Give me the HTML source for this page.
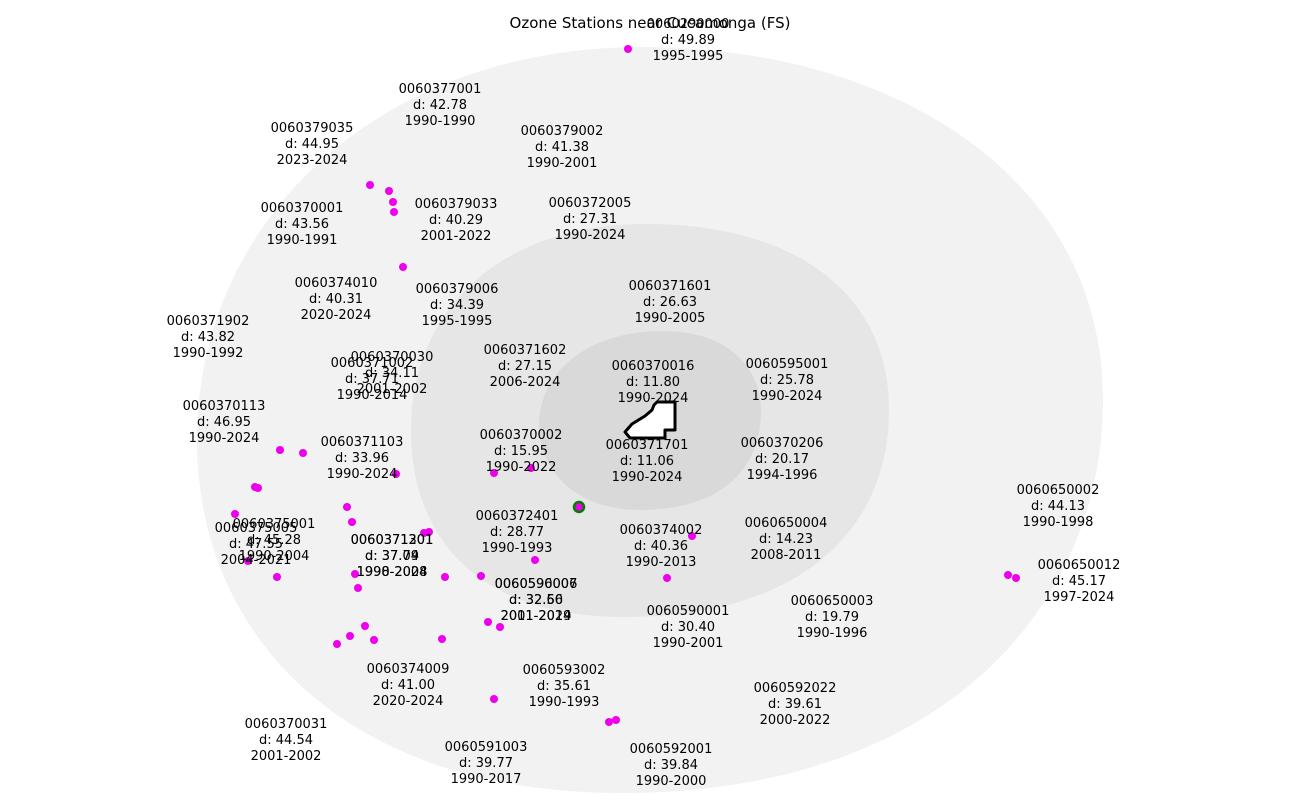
<!DOCTYPE html>
<html><head><style>body{margin:0;background:#fff}svg{display:block}text{font-family:"DejaVu Sans","Liberation Sans",sans-serif;font-size:13px;fill:#000}</style></head>
<body>
<svg width="1300" height="802" viewBox="0 0 1300 802" xmlns="http://www.w3.org/2000/svg">
<path d="M650,47 C900,50 1103,180 1103,400 C1103,600 950,793 620,793 C350,793 197,640 197,440 C197,220 380,44 650,47Z" fill="#f2f2f2"/>
<path d="M640,224 C790,222 889,290 889,410 C889,530 800,617 625,617 C480,617 411,540 411,430 C411,310 500,226 640,224Z" fill="#e6e6e6"/>
<path d="M660,331 C730,330 761,370 761,410 C761,470 720,510 640,510 C575,510 539,470 539,425 C539,370 590,332 660,331Z" fill="#d9d9d9"/>
<path d="M657,402 L675,402 L675,430 L665,430 L665,438 L630,438 L625,432 L632,424 L645,416 L652,410 L654,405Z" fill="#fff" stroke="#000" stroke-width="3" stroke-linejoin="round"/>
<g fill="#ee00ee">
<circle cx="628" cy="49" r="4"/><circle cx="370" cy="185" r="4"/><circle cx="389" cy="191" r="4"/><circle cx="393" cy="202" r="4"/><circle cx="394" cy="212" r="4"/><circle cx="403" cy="267" r="4"/><circle cx="280" cy="450" r="4"/><circle cx="303" cy="453" r="4"/><circle cx="255" cy="487" r="4"/><circle cx="258" cy="488" r="4"/><circle cx="235" cy="514" r="4"/><circle cx="248" cy="561" r="4"/><circle cx="277" cy="577" r="4"/><circle cx="347" cy="507" r="4"/><circle cx="352" cy="522" r="4"/><circle cx="355" cy="574" r="4"/><circle cx="358" cy="588" r="4"/><circle cx="365" cy="626" r="4"/><circle cx="350" cy="636" r="4"/><circle cx="337" cy="644" r="4"/><circle cx="374" cy="640" r="4"/><circle cx="442" cy="639" r="4"/><circle cx="445" cy="577" r="4"/><circle cx="481" cy="576" r="4"/><circle cx="488" cy="622" r="4"/><circle cx="500" cy="627" r="4"/><circle cx="494" cy="699" r="4"/><circle cx="609" cy="722" r="4"/><circle cx="616" cy="720" r="4"/><circle cx="494" cy="473" r="4"/><circle cx="531" cy="468" r="4"/><circle cx="396" cy="474" r="4"/><circle cx="424" cy="533" r="4"/><circle cx="429" cy="532" r="4"/><circle cx="535" cy="560" r="4"/><circle cx="667" cy="578" r="4"/><circle cx="692" cy="536" r="4"/><circle cx="1008" cy="575" r="4"/><circle cx="1016" cy="578" r="4"/>
</g>
<circle cx="579" cy="507" r="5" fill="#ee00ee" stroke="#008000" stroke-width="2.5"/>
<g text-anchor="middle">
<text x="650" y="28" style="font-size:15px">Ozone Stations near Cucamonga (FS)</text>
<g transform="translate(-2,-1)">
<text x="690" y="29">0060290000<tspan x="690" dy="16">d: 49.89</tspan><tspan x="690" dy="16">1995-1995</tspan></text>
<text x="442" y="94">0060377001<tspan x="442" dy="16">d: 42.78</tspan><tspan x="442" dy="16">1990-1990</tspan></text>
<text x="314" y="133">0060379035<tspan x="314" dy="16">d: 44.95</tspan><tspan x="314" dy="16">2023-2024</tspan></text>
<text x="564" y="136">0060379002<tspan x="564" dy="16">d: 41.38</tspan><tspan x="564" dy="16">1990-2001</tspan></text>
<text x="304" y="213">0060370001<tspan x="304" dy="16">d: 43.56</tspan><tspan x="304" dy="16">1990-1991</tspan></text>
<text x="458" y="209">0060379033<tspan x="458" dy="16">d: 40.29</tspan><tspan x="458" dy="16">2001-2022</tspan></text>
<text x="592" y="208">0060372005<tspan x="592" dy="16">d: 27.31</tspan><tspan x="592" dy="16">1990-2024</tspan></text>
<text x="338" y="288">0060374010<tspan x="338" dy="16">d: 40.31</tspan><tspan x="338" dy="16">2020-2024</tspan></text>
<text x="459" y="294">0060379006<tspan x="459" dy="16">d: 34.39</tspan><tspan x="459" dy="16">1995-1995</tspan></text>
<text x="672" y="291">0060371601<tspan x="672" dy="16">d: 26.63</tspan><tspan x="672" dy="16">1990-2005</tspan></text>
<text x="210" y="326">0060371902<tspan x="210" dy="16">d: 43.82</tspan><tspan x="210" dy="16">1990-1992</tspan></text>
<text x="394" y="362">0060370030<tspan x="394" dy="16">d: 34.11</tspan><tspan x="394" dy="16">2001-2002</tspan></text>
<text x="374" y="368">0060371002<tspan x="374" dy="16">d: 37.71</tspan><tspan x="374" dy="16">1990-2014</tspan></text>
<text x="527" y="355">0060371602<tspan x="527" dy="16">d: 27.15</tspan><tspan x="527" dy="16">2006-2024</tspan></text>
<text x="655" y="371">0060370016<tspan x="655" dy="16">d: 11.80</tspan><tspan x="655" dy="16">1990-2024</tspan></text>
<text x="789" y="369">0060595001<tspan x="789" dy="16">d: 25.78</tspan><tspan x="789" dy="16">1990-2024</tspan></text>
<text x="226" y="411">0060370113<tspan x="226" dy="16">d: 46.95</tspan><tspan x="226" dy="16">1990-2024</tspan></text>
<text x="364" y="447">0060371103<tspan x="364" dy="16">d: 33.96</tspan><tspan x="364" dy="16">1990-2024</tspan></text>
<text x="523" y="440">0060370002<tspan x="523" dy="16">d: 15.95</tspan><tspan x="523" dy="16">1990-2022</tspan></text>
<text x="649" y="450">0060371701<tspan x="649" dy="16">d: 11.06</tspan><tspan x="649" dy="16">1990-2024</tspan></text>
<text x="784" y="448">0060370206<tspan x="784" dy="16">d: 20.17</tspan><tspan x="784" dy="16">1994-1996</tspan></text>
<text x="1060" y="495">0060650002<tspan x="1060" dy="16">d: 44.13</tspan><tspan x="1060" dy="16">1990-1998</tspan></text>
<text x="276" y="529">0060375001<tspan x="276" dy="16">d: 45.28</tspan><tspan x="276" dy="16">1990-2004</tspan></text>
<text x="258" y="533">0060375005<tspan x="258" dy="16">d: 47.55</tspan><tspan x="258" dy="16">2004-2021</tspan></text>
<text x="394" y="545">0060371301<tspan x="394" dy="16">d: 37.09</tspan><tspan x="394" dy="16">1990-2024</tspan></text>
<text x="394" y="545">0060371201<tspan x="394" dy="16">d: 37.74</tspan><tspan x="394" dy="16">1998-2008</tspan></text>
<text x="519" y="521">0060372401<tspan x="519" dy="16">d: 28.77</tspan><tspan x="519" dy="16">1990-1993</tspan></text>
<text x="663" y="535">0060374002<tspan x="663" dy="16">d: 40.36</tspan><tspan x="663" dy="16">1990-2013</tspan></text>
<text x="788" y="528">0060650004<tspan x="788" dy="16">d: 14.23</tspan><tspan x="788" dy="16">2008-2011</tspan></text>
<text x="1081" y="570">0060650012<tspan x="1081" dy="16">d: 45.17</tspan><tspan x="1081" dy="16">1997-2024</tspan></text>
<text x="538" y="589">0060590007<tspan x="538" dy="16">d: 32.66</tspan><tspan x="538" dy="16">2001-2019</tspan></text>
<text x="538" y="589">0060596006<tspan x="538" dy="16">d: 32.50</tspan><tspan x="538" dy="16">2011-2024</tspan></text>
<text x="690" y="616">0060590001<tspan x="690" dy="16">d: 30.40</tspan><tspan x="690" dy="16">1990-2001</tspan></text>
<text x="834" y="606">0060650003<tspan x="834" dy="16">d: 19.79</tspan><tspan x="834" dy="16">1990-1996</tspan></text>
<text x="410" y="674">0060374009<tspan x="410" dy="16">d: 41.00</tspan><tspan x="410" dy="16">2020-2024</tspan></text>
<text x="566" y="675">0060593002<tspan x="566" dy="16">d: 35.61</tspan><tspan x="566" dy="16">1990-1993</tspan></text>
<text x="797" y="693">0060592022<tspan x="797" dy="16">d: 39.61</tspan><tspan x="797" dy="16">2000-2022</tspan></text>
<text x="288" y="729">0060370031<tspan x="288" dy="16">d: 44.54</tspan><tspan x="288" dy="16">2001-2002</tspan></text>
<text x="488" y="752">0060591003<tspan x="488" dy="16">d: 39.77</tspan><tspan x="488" dy="16">1990-2017</tspan></text>
<text x="673" y="754">0060592001<tspan x="673" dy="16">d: 39.84</tspan><tspan x="673" dy="16">1990-2000</tspan></text>
</g>
</g>
</svg>
</body></html>
